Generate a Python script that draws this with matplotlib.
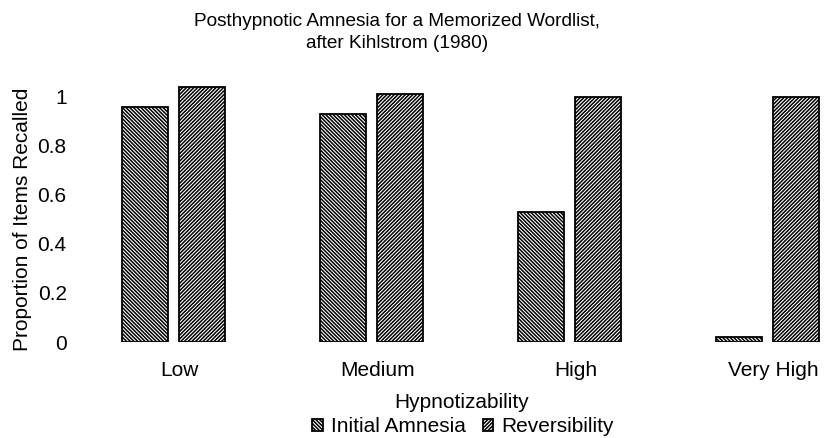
import matplotlib
matplotlib.use("Agg")
import matplotlib.pyplot as plt
import numpy as np

categories = ["Low", "Medium", "High", "Very High"]
initial_amnesia = [0.96, 0.93, 0.53, 0.02]
reversibility = [1.04, 1.01, 1.00, 1.00]
yticks = [0, 0.2, 0.4, 0.6, 0.8, 1.0]
ytick_labels = ["0", "0.2", "0.4", "0.6", "0.8", "1"]

plt.rcParams['font.family'] = ['Liberation Sans', 'DejaVu Sans']
plt.rcParams['hatch.linewidth'] = 1.1

fig = plt.figure(figsize=(8.24, 4.38), dpi=100)
ax = fig.add_axes([100/824, (438-342)/438, 724/824, 262/438])

x = np.arange(len(categories))
w = 0.23
off = 0.144
ax.bar(x - off, initial_amnesia, w, color='white', edgecolor='black',
       hatch='\\' * 9, linewidth=1.3, label='Initial Amnesia')
ax.bar(x + off, reversibility, w, color='white', edgecolor='black',
       hatch='/' * 9, linewidth=1.3, label='Reversibility')

ax.set_xlim(-0.371, 3.285)
ax.set_ylim(0, 1.069)
ax.set_xticks(x + 0.03)
ax.set_xticklabels(categories, fontsize=15)
ax.set_yticks(yticks)
ax.set_yticklabels(ytick_labels, fontsize=15)
ax.tick_params(axis='both', length=0)
ax.tick_params(axis='y', pad=24)
ax.tick_params(axis='x', pad=14)
for s in ax.spines.values():
    s.set_visible(False)

fig.text(23/824, 1 - 219/438, "Proportion of Items Recalled", rotation=90,
         ha='center', va='center', fontsize=15)
ax.set_xlabel("Hypnotizability", fontsize=15)
ax.xaxis.set_label_coords(0.5, -51/262, transform=ax.transAxes)

fig.text(397/824, 1 - 21/438, "Posthypnotic Amnesia for a Memorized Wordlist,",
         ha='center', va='center', fontsize=13.7)
fig.text(397/824, 1 - 43/438, "after Kihlstrom (1980)",
         ha='center', va='center', fontsize=13.7)

fig.legend(loc='center', bbox_to_anchor=(463/824, 11/438), ncol=2, frameon=False,
           fontsize=15, handlelength=0.5, handleheight=0.5, handletextpad=0.4,
           columnspacing=0.8, borderpad=0)

fig.savefig("out.png", dpi=100)
